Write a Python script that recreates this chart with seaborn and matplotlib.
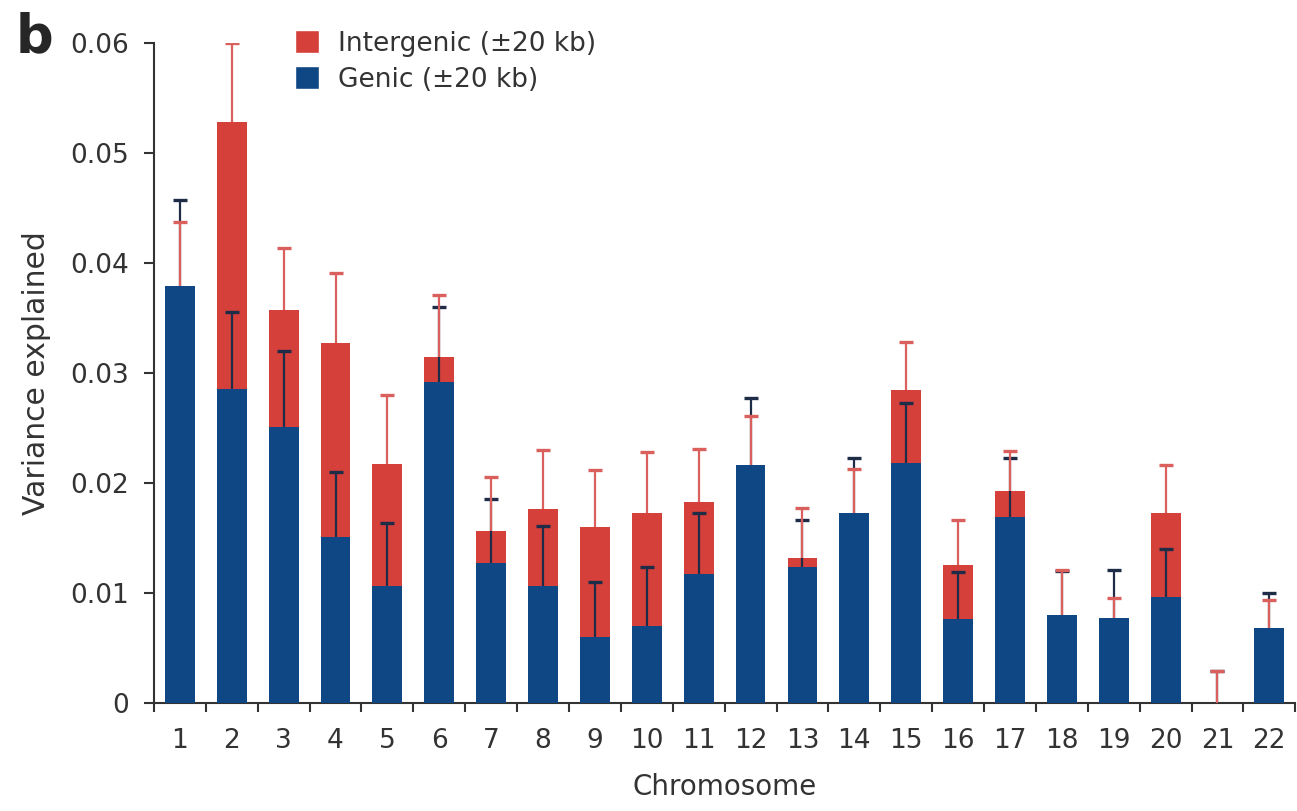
import numpy as np
import pandas as pd
import matplotlib
matplotlib.use("Agg")
import matplotlib.pyplot as plt
from matplotlib.patches import Patch
import seaborn as sns

# ----------------------
# data
# ----------------------
chromosomes = [str(i) for i in range(1, 23)]

intergenic = [0.0370, 0.0528, 0.0357, 0.0327, 0.0217, 0.0314, 0.0156, 0.0176,
              0.0160, 0.0173, 0.0183, 0.0210, 0.0132, 0.0168, 0.0284, 0.0125,
              0.0193, 0.0078, 0.0074, 0.0173, 0.0000, 0.0066]
intergenic_top = [0.0437, 0.0600, 0.0414, 0.0391, 0.0280, 0.0371, 0.0205, 0.0230,
                  0.0212, 0.0228, 0.0231, 0.0261, 0.0177, 0.0213, 0.0328, 0.0166,
                  0.0229, 0.0121, 0.0095, 0.0216, 0.0029, 0.0093]

genic = [0.0379, 0.0285, 0.0251, 0.0151, 0.0106, 0.0292, 0.0127, 0.0106,
         0.0060, 0.0070, 0.0117, 0.0216, 0.0123, 0.0173, 0.0218, 0.0076,
         0.0169, 0.0080, 0.0077, 0.0096, 0.0000, 0.0068]
genic_top = [0.0457, 0.0355, 0.0320, 0.0210, 0.0163, 0.0360, 0.0185, 0.0161,
             0.0110, 0.0123, 0.0173, 0.0277, 0.0166, 0.0223, 0.0273, 0.0119,
             0.0223, 0.0120, 0.0121, 0.0140, 0.0029, 0.0100]

df = pd.DataFrame({
    "chrom": chromosomes,
    "intergenic": intergenic,
    "genic": genic,
})

red = "#D5403A"
blue = "#0F4684"
red_err = "#D9605C"
blue_err = "#1E2C48"
txt = "#333333"

# ----------------------
# plot
# ----------------------
sns.set_style("ticks")
plt.rcParams["font.family"] = ["DejaVu Sans"]

fig = plt.figure(figsize=(12.97, 8.11), dpi=100)
ax = fig.add_axes([0.1187, 0.1335, 0.880, 0.8135])

bw = 0.575
sns.barplot(data=df, x="chrom", y="intergenic", order=chromosomes, color=red,
            width=bw, saturation=1, ax=ax, zorder=1, linewidth=0)
sns.barplot(data=df, x="chrom", y="genic", order=chromosomes, color=blue,
            width=bw, saturation=1, ax=ax, zorder=4, linewidth=0)

# one-sided error bars: line from bar top up to the cap
xpos = np.arange(len(chromosomes))
ax.vlines(xpos, genic, genic_top, color=blue_err, lw=1.6, zorder=2)
ax.plot(xpos, genic_top, ls="none", marker="_", ms=10, mew=2.4, color=blue_err, zorder=2)
ax.vlines(xpos, intergenic, intergenic_top, color=red_err, lw=1.6, zorder=3)
ax.plot(xpos, intergenic_top, ls="none", marker="_", ms=10, mew=2.4, color=red_err, zorder=3)

ax.set_xlim(-0.5, len(chromosomes) - 0.5)
ax.set_ylim(0, 0.06)
ax.set_yticks([0, 0.01, 0.02, 0.03, 0.04, 0.05, 0.06])
ax.set_yticklabels(["0", "0.01", "0.02", "0.03", "0.04", "0.05", "0.06"])

# category boundary ticks on the x axis
ax.set_xticks(np.arange(-0.5, len(chromosomes)), minor=True)
ax.tick_params(axis="x", which="major", length=0, pad=18, labelsize=19, colors=txt)
ax.tick_params(axis="x", which="minor", length=6.5, width=1.5, direction="out", color=txt)
ax.tick_params(axis="y", length=7, width=1.5, direction="out", labelsize=19,
               colors=txt, pad=11)

sns.despine(ax=ax)
for s in ["left", "bottom"]:
    ax.spines[s].set_linewidth(1.5)
    ax.spines[s].set_color(txt)

ax.set_xlabel("Chromosome", fontsize=20, color=txt, labelpad=14)
ax.set_ylabel("Variance explained", fontsize=21.5, color=txt, labelpad=14)

handles = [Patch(facecolor=red, label="Intergenic (±20 kb)"),
           Patch(facecolor=blue, label="Genic (±20 kb)")]
leg = ax.legend(handles=handles, loc="upper left", bbox_to_anchor=(0.1236, 1.019),
                frameon=False, fontsize=19, handlelength=0.9, handleheight=0.95,
                handletextpad=0.72, labelspacing=0.35, borderpad=0, borderaxespad=0)
for t in leg.get_texts():
    t.set_color(txt)

fig.text(0.012, 0.936, "b", fontsize=38, fontweight="bold", ha="left", va="baseline")

fig.savefig("out.png", dpi=100)
